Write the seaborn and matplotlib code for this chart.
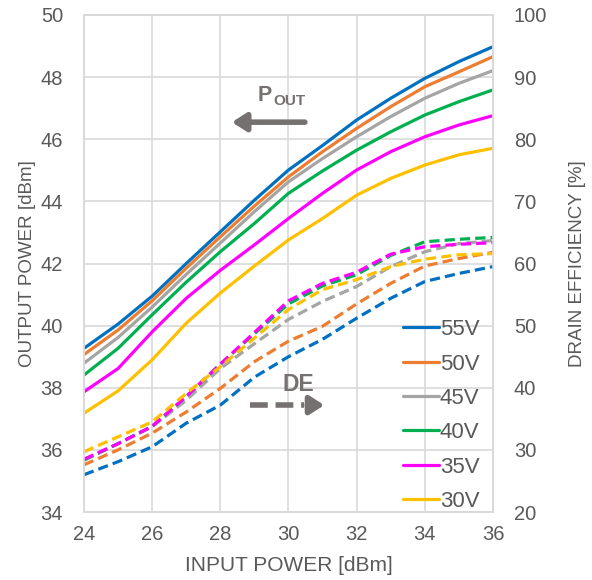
import numpy as np
import pandas as pd
import matplotlib
matplotlib.use("Agg")
import matplotlib.pyplot as plt
import seaborn as sns
from matplotlib.lines import Line2D

# ---------------- data ----------------
input_power = [24, 25, 26, 27, 28, 29, 30, 31, 32, 33, 34, 35, 36]
voltages = ["55V", "50V", "45V", "40V", "35V", "30V"]
colors = ["#0070C0", "#ED7D31", "#A5A5A5", "#00B050", "#FF00FF", "#FFC000"]

pout_55 = [39.27, 40.05, 40.95, 42.00, 43.02, 44.04, 45.01, 45.80, 46.62, 47.32, 47.96, 48.50, 48.98]
pout_50 = [39.07, 39.86, 40.80, 41.85, 42.86, 43.85, 44.79, 45.60, 46.35, 47.05, 47.69, 48.17, 48.66]
pout_45 = [38.79, 39.62, 40.60, 41.65, 42.66, 43.67, 44.63, 45.38, 46.08, 46.73, 47.32, 47.80, 48.21]
pout_40 = [38.41, 39.27, 40.35, 41.40, 42.38, 43.29, 44.26, 44.98, 45.65, 46.24, 46.78, 47.21, 47.59]
pout_35 = [37.87, 38.62, 39.80, 40.88, 41.78, 42.60, 43.45, 44.26, 45.01, 45.60, 46.08, 46.46, 46.76]
pout_30 = [37.18, 37.90, 38.90, 40.08, 41.05, 41.92, 42.76, 43.45, 44.20, 44.74, 45.17, 45.50, 45.71]

de_55 = [26.0, 28.1, 30.5, 34.3, 37.2, 41.7, 45.0, 47.8, 51.2, 54.4, 57.1, 58.4, 59.5]
de_50 = [27.6, 30.0, 32.7, 36.1, 39.9, 44.2, 47.5, 49.9, 53.5, 56.8, 59.6, 60.8, 61.8]
de_45 = [28.3, 31.0, 33.7, 38.0, 43.1, 47.1, 51.0, 53.9, 56.3, 59.5, 61.9, 63.2, 63.7]
de_40 = [28.4, 31.0, 33.8, 38.6, 43.8, 48.7, 53.5, 56.4, 58.2, 61.3, 63.5, 63.9, 64.2]
de_35 = [28.5, 31.0, 33.8, 38.6, 43.8, 48.9, 54.0, 56.8, 58.6, 61.5, 62.7, 63.1, 63.35]
de_30 = [29.7, 32.1, 34.5, 39.1, 43.4, 48.0, 52.6, 55.8, 57.4, 59.5, 60.7, 61.4, 61.6]

x_ticks = [24, 26, 28, 30, 32, 34, 36]
y_ticks = [34, 36, 38, 40, 42, 44, 46, 48, 50]
y2_ticks = [20, 30, 40, 50, 60, 70, 80, 90, 100]

pouts = [pout_55, pout_50, pout_45, pout_40, pout_35, pout_30]
des = [de_55, de_50, de_45, de_40, de_35, de_30]

df_p = pd.DataFrame([(x, v, p) for v, ser in zip(voltages, pouts) for x, p in zip(input_power, ser)],
                    columns=["pin", "volt", "pout"])
df_d = pd.DataFrame([(x, v, d) for v, ser in zip(voltages, des) for x, d in zip(input_power, ser)],
                    columns=["pin", "volt", "de"])

# ---------------- style ----------------
sns.set_theme(style="white")
plt.rcParams["font.family"] = ["Liberation Sans", "DejaVu Sans"]
txt = "#595959"
grid_c = "#D9D9D9"
arrow_c = "#767171"
fs_tick = 14.5

fig = plt.figure(figsize=(5.92, 5.80), dpi=100)
ax = fig.add_axes([84 / 592, 1 - 512 / 580, (493 - 84) / 592, (512 - 15) / 580])
ax2 = ax.twinx()

palette = dict(zip(voltages, colors))
sns.lineplot(data=df_p, x="pin", y="pout", hue="volt", palette=palette, ax=ax,
             linewidth=2.3, legend=False, sort=True)
sns.lineplot(data=df_d, x="pin", y="de", hue="volt", palette=palette, ax=ax2,
             linewidth=2.3, legend=False, sort=True)
for ln in ax2.get_lines():
    ln.set_dashes([3.2, 1.6])

ax.set_xlim(24, 36)
ax.set_ylim(34, 50)
ax2.set_ylim(20, 100)
ax.set_xticks(x_ticks)
ax.set_yticks(y_ticks)
ax2.set_yticks(y2_ticks)
ax.grid(True, color=grid_c, linewidth=1.2)
ax.set_axisbelow(True)
for a in (ax, ax2):
    for s in a.spines.values():
        s.set_color(grid_c)
        s.set_linewidth(1.2)
    a.tick_params(length=0, labelsize=fs_tick, labelcolor=txt)
ax.tick_params(axis="y", pad=15)
ax.tick_params(axis="x", pad=9)
ax2.tick_params(axis="y", pad=15)

ax.set_xlabel("INPUT POWER [dBm]", fontsize=15, color=txt, labelpad=9)
ax.set_ylabel("OUTPUT POWER [dBm]", fontsize=13.5, color=txt, labelpad=3)
ax2.set_ylabel("DRAIN EFFICIENCY [%]", fontsize=13.5, color=txt, labelpad=16)

# annotations
ax.text(29.08, 47.42, "P", fontsize=15.5, fontweight="bold", color=arrow_c, ha="left", va="center")
ax.text(29.55, 47.22, "OUT", fontsize=11, fontweight="bold", color=arrow_c, ha="left", va="center")
ax.annotate("", xy=(28.34, 46.55), xytext=(30.48, 46.55),
            arrowprops=dict(arrowstyle="-|>,head_length=0.7,head_width=0.45",
                            color=arrow_c, lw=4, shrinkA=0, shrinkB=0))
ax.text(30.3, 38.12, "DE", fontsize=16.5, fontweight="bold", color=arrow_c, ha="center", va="center")
ax.plot([28.87, 30.45], [37.44, 37.44], color=arrow_c, lw=4, dashes=[3.2, 1.4], solid_capstyle="butt")
ax.annotate("", xy=(31.05, 37.44), xytext=(30.55, 37.44),
            arrowprops=dict(arrowstyle="-|>,head_length=0.7,head_width=0.45",
                            color=arrow_c, lw=4, shrinkA=0, shrinkB=0))

handles = [Line2D([0], [0], color=c, lw=2.3) for c in colors]
leg = ax2.legend(handles, voltages, loc="lower right", bbox_to_anchor=(1.005, -0.031),
                 frameon=False, fontsize=16, handlelength=1.6, handletextpad=0.05,
                 labelspacing=0.6, borderpad=0.2)
for t in leg.get_texts():
    t.set_color(txt)

fig.savefig("out.png", dpi=100)
